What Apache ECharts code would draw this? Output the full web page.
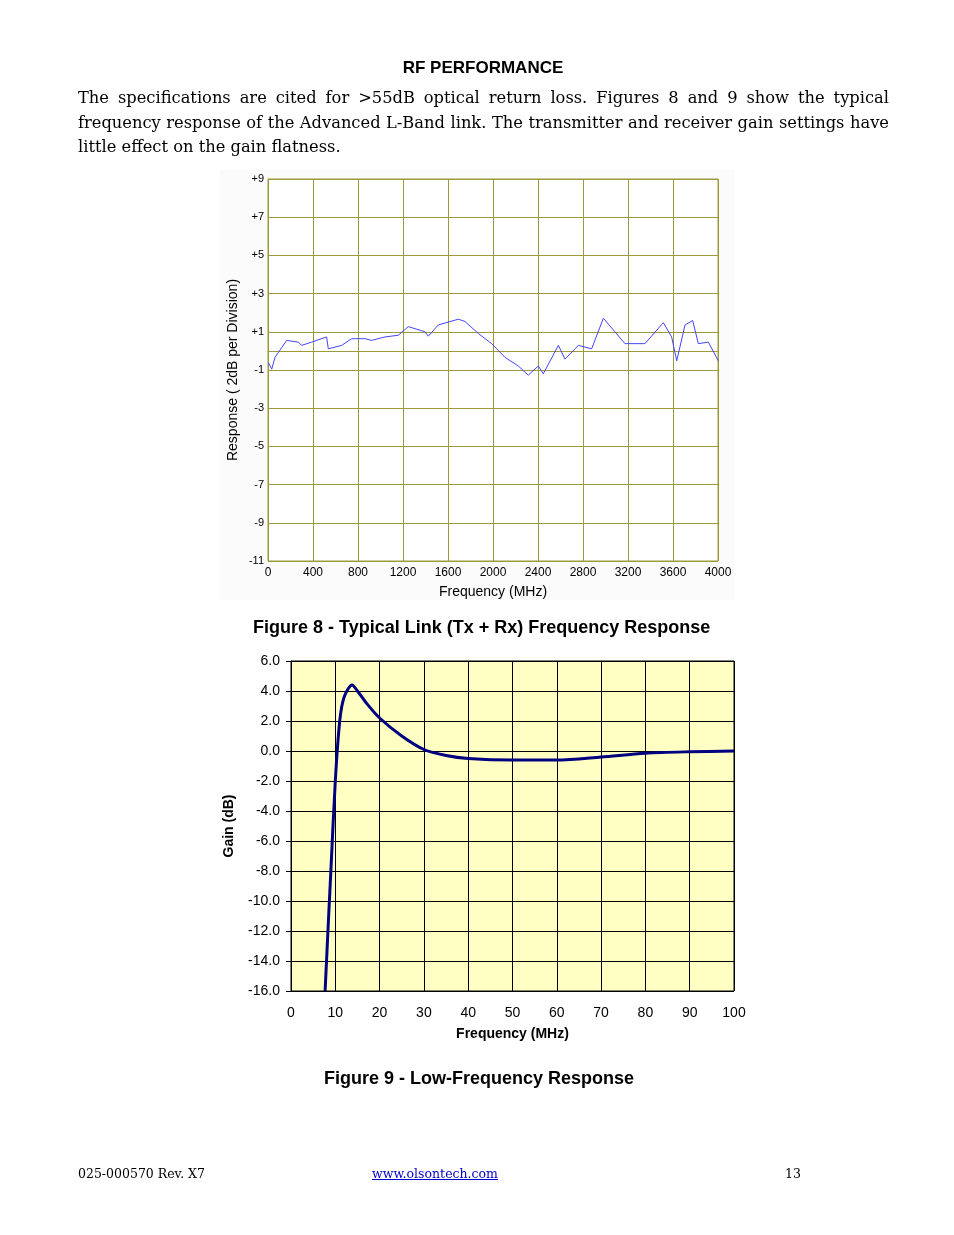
<!DOCTYPE html>
<html><head><meta charset="utf-8">
<script src="https://cdn.jsdelivr.net/npm/echarts@6/dist/echarts.min.js"></script>
<style>
body{margin:0;background:#fff;}
#page{position:relative;width:954px;height:1235px;}
#chart{position:absolute;left:0;top:0;width:954px;height:1235px;}
.t{position:absolute;font-family:"DejaVu Serif",serif;color:#000;}
</style></head><body>
<div id="page">
<div id="chart"></div>
<div class="t" style="left:0;width:966px;top:58px;text-align:center;font:bold 17px 'Liberation Sans',Arial,sans-serif;">RF PERFORMANCE</div>
<div class="t" style="left:78px;width:811px;top:86px;font-size:16.3px;line-height:24.5px;text-align:justify;font-family:'DejaVu Serif',serif;">The specifications are cited for &gt;55dB optical return loss. Figures 8 and 9 show the typical frequency response of the Advanced L-Band link. The transmitter and receiver gain settings have little effect on the gain flatness.</div>
<div class="t" style="left:78px;top:1166px;font-size:13px;font-family:'DejaVu Serif',serif;font-size:12.5px;">025-000570 Rev. X7</div>
<div class="t" style="left:372px;top:1166px;font-size:12.5px;font-family:'DejaVu Serif',serif;color:#00c;text-decoration:underline;">www.olsontech.com</div>
<div class="t" style="left:785px;top:1166px;font-size:12.5px;font-family:'DejaVu Serif',serif;">13</div>
</div>
<script>
// Figure 8: link response (MHz, dB)
const fig8Freq = [3,33,62,166,270,299,388,521,536,655,744,862,921,1040,1158,1247,1396,1425,1514,1692,1751,1870,1988,2107,2225,2314,2403,2447,2581,2640,2759,2877,2981,3084,3173,3351,3514,3588,3633,3707,3775,3825,3914,4003];
const fig8Resp = [-0.61,-0.96,-0.34,0.55,0.46,0.29,0.46,0.73,0.11,0.29,0.64,0.64,0.55,0.73,0.82,1.27,1.0,0.77,1.36,1.66,1.54,0.91,0.38,-0.34,-0.79,-1.27,-0.79,-1.2,0.29,-0.43,0.29,0.11,1.71,1.0,0.38,0.38,1.48,0.73,-0.52,1.36,1.59,0.38,0.46,-0.52];
// Figure 9: low-frequency response (MHz, dB)
const fig9Freq = [7.7,8.5,9,10,11,12,13.8,15,17,20,25,30,35,40,50,60,70,80,90,100];
const fig9Gain = [-16,-11,-8,-2,2,3.6,4.4,4.0,3.2,2.2,1.0,0.1,-0.3,-0.5,-0.6,-0.6,-0.4,-0.15,-0.05,0];

const pair = (xs, ys) => xs.map((x, i) => [x, ys[i]]);
const chart = echarts.init(document.getElementById('chart'));
const olive = '#9c9a3a';
chart.setOption({
  animation: false,
  graphic: [
    {type:'rect', shape:{x:220,y:170,width:515,height:430}, style:{fill:'#fbfbfb'}, z:-10}
  ],
  title: [
    {text:'Figure 8 - Typical Link (Tx + Rx) Frequency Response', left:248, top:614,
     textStyle:{fontFamily:'Liberation Sans, Arial', fontSize:18, fontWeight:'bold', color:'#000'}},
    {text:'Figure 9 - Low-Frequency Response', left:319, top:1065,
     textStyle:{fontFamily:'Liberation Sans, Arial', fontSize:18, fontWeight:'bold', color:'#000'}}
  ],
  grid: [
    {left:268, top:179, width:450, height:382, show:true, backgroundColor:'#fff', borderColor:olive, borderWidth:1},
    {left:291, top:661, width:443, height:330, show:true, backgroundColor:'#ffffc4', borderColor:'#000', borderWidth:1}
  ],
  xAxis: [
    {gridIndex:0, type:'value', min:0, max:4000, interval:400,
     name:'Frequency (MHz)', nameLocation:'middle', nameGap:24,
     nameTextStyle:{fontFamily:'Liberation Sans, Arial', fontSize:14, color:'#000'},
     axisLine:{lineStyle:{color:olive}}, axisTick:{show:false},
     axisLabel:{fontFamily:'Liberation Sans, Arial', fontSize:12, color:'#000', margin:6, formatter: v => String(v)},
     splitLine:{lineStyle:{color:olive, width:1}}},
    {gridIndex:1, type:'value', min:0, max:100, interval:10,
     name:'Frequency (MHz)', nameLocation:'middle', nameGap:36,
     nameTextStyle:{fontFamily:'Liberation Sans, Arial', fontSize:14, fontWeight:'bold', color:'#000'},
     axisLine:{lineStyle:{color:'#000'}}, axisTick:{show:true, inside:false, length:5, lineStyle:{color:'#000'}},
     axisLabel:{fontFamily:'Liberation Sans, Arial', fontSize:14, color:'#000', margin:15},
     splitLine:{lineStyle:{color:'#000', width:1}}}
  ],
  yAxis: [
    {gridIndex:0, type:'value', min:-11, max:9, interval:2,
     name:'Response ( 2dB per Division)', nameLocation:'middle', nameGap:28,
     nameTextStyle:{fontFamily:'Liberation Sans, Arial', fontSize:14, color:'#000'},
     axisLine:{lineStyle:{color:olive}}, axisTick:{show:false},
     axisLabel:{fontFamily:'Liberation Sans, Arial', fontSize:11, color:'#000', margin:4,
       formatter: v => v > 0 ? '+' + v : String(v)},
     splitLine:{lineStyle:{color:olive, width:1}}},
    {gridIndex:1, type:'value', min:-16, max:6, interval:2,
     name:'Gain (dB)', nameLocation:'middle', nameGap:55,
     nameTextStyle:{fontFamily:'Liberation Sans, Arial', fontSize:14, fontWeight:'bold', color:'#000'},
     axisLine:{lineStyle:{color:'#000'}}, axisTick:{show:true, length:5, lineStyle:{color:'#000'}},
     axisLabel:{fontFamily:'Liberation Sans, Arial', fontSize:14, color:'#000', margin:11,
       formatter: v => v.toFixed(1)},
     splitLine:{lineStyle:{color:'#000', width:1}}}
  ],
  series: [
    {type:'line', xAxisIndex:0, yAxisIndex:0, data:pair(fig8Freq, fig8Resp),
     showSymbol:false, lineStyle:{color:'#4444ff', width:1}},
    {type:'line', xAxisIndex:1, yAxisIndex:1, data:pair(fig9Freq, fig9Gain),
     showSymbol:false, smooth:0.3, lineStyle:{color:'#000080', width:3}}
  ]
});
</script>
</body></html>
